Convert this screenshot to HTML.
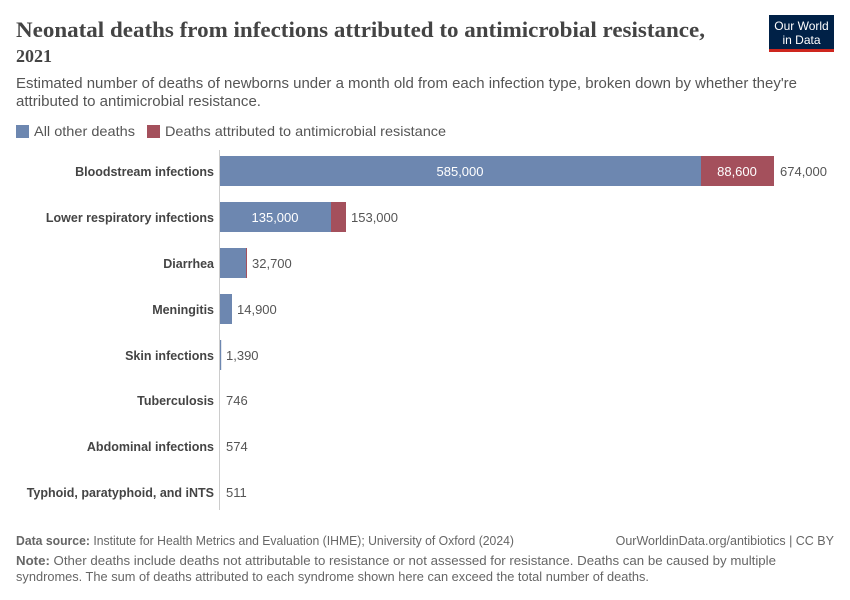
<!DOCTYPE html>
<html><head><meta charset="utf-8"><style>
body{margin:0;background:#fff;width:850px;height:600px;overflow:hidden;font-family:"Liberation Sans",sans-serif}
</style></head><body>
<svg width="850" height="600" xmlns="http://www.w3.org/2000/svg" style="position:absolute;left:0;top:0">
<text x="16" y="37" font-family="Liberation Serif,serif" font-size="22" font-weight="bold" fill="#444" textLength="689" lengthAdjust="spacingAndGlyphs">Neonatal deaths from infections attributed to antimicrobial resistance,</text>
<text x="16" y="62" font-family="Liberation Serif,serif" font-size="18" font-weight="bold" fill="#444">2021</text>
<rect x="769" y="15" width="65" height="37" fill="#002147"/>
<rect x="769" y="49" width="65" height="3" fill="#ce261e"/>
<text x="801.5" y="30" font-size="12" fill="#fff" text-anchor="middle">Our World</text>
<text x="801.5" y="44" font-size="12" fill="#fff" text-anchor="middle">in Data</text>
<text x="16" y="88" font-size="14.5" fill="#555" textLength="781" lengthAdjust="spacingAndGlyphs">Estimated number of deaths of newborns under a month old from each infection type, broken down by whether they're</text>
<text x="16" y="106" font-size="14.5" fill="#555" textLength="245" lengthAdjust="spacingAndGlyphs">attributed to antimicrobial resistance.</text>
<rect x="16" y="125" width="13" height="13" fill="#6d87b0"/>
<text x="34" y="136" font-size="14" fill="#555" textLength="101" lengthAdjust="spacingAndGlyphs">All other deaths</text>
<rect x="147" y="125" width="13" height="13" fill="#a4505c"/>
<text x="165" y="136" font-size="14" fill="#555" textLength="281" lengthAdjust="spacingAndGlyphs">Deaths attributed to antimicrobial resistance</text>
<line x1="219.5" y1="150" x2="219.5" y2="510" stroke="#ccc"/>
<g font-size="12.5" fill="#444" font-weight="bold" text-anchor="end">
<text x="214" y="176">Bloodstream infections</text>
<text x="214" y="222">Lower respiratory infections</text>
<text x="214" y="268">Diarrhea</text>
<text x="214" y="314">Meningitis</text>
<text x="214" y="360">Skin infections</text>
<text x="214" y="405">Tuberculosis</text>
<text x="214" y="451">Abdominal infections</text>
<text x="214" y="497">Typhoid, paratyphoid, and iNTS</text>
</g>
<rect x="220" y="156" width="481" height="30" fill="#6d87b0"/>
<rect x="701" y="156" width="73" height="30" fill="#a4505c"/>
<rect x="220" y="202" width="111" height="30" fill="#6d87b0"/>
<rect x="331" y="202" width="15" height="30" fill="#a4505c"/>
<rect x="220" y="248" width="26" height="30" fill="#6d87b0"/>
<rect x="246" y="248" width="1" height="30" fill="#a4505c"/>
<rect x="220" y="294" width="12" height="30" fill="#6d87b0"/>
<rect x="220" y="340" width="1.2" height="30" fill="#6d87b0"/>
<g font-size="13" fill="#fff" text-anchor="middle">
<text x="460" y="176">585,000</text>
<text x="737" y="176">88,600</text>
<text x="275" y="222">135,000</text>
</g>
<g font-size="13" fill="#555">
<text x="780" y="176">674,000</text>
<text x="351" y="222">153,000</text>
<text x="252" y="268">32,700</text>
<text x="237" y="314">14,900</text>
<text x="226" y="360">1,390</text>
<text x="226" y="405">746</text>
<text x="226" y="451">574</text>
<text x="226" y="497">511</text>
</g>
<g font-size="12.5" fill="#666">
<text x="16" y="545" textLength="498" lengthAdjust="spacingAndGlyphs"><tspan font-weight="bold">Data source:</tspan> Institute for Health Metrics and Evaluation (IHME); University of Oxford (2024)</text>
<text x="834" y="545" text-anchor="end">OurWorldinData.org/antibiotics | CC BY</text>
<text x="16" y="565" textLength="760" lengthAdjust="spacingAndGlyphs"><tspan font-weight="bold">Note:</tspan> Other deaths include deaths not attributable to resistance or not assessed for resistance. Deaths can be caused by multiple</text>
<text x="16" y="581" textLength="633" lengthAdjust="spacingAndGlyphs">syndromes. The sum of deaths attributed to each syndrome shown here can exceed the total number of deaths.</text>
</g>
</svg>
</body></html>
